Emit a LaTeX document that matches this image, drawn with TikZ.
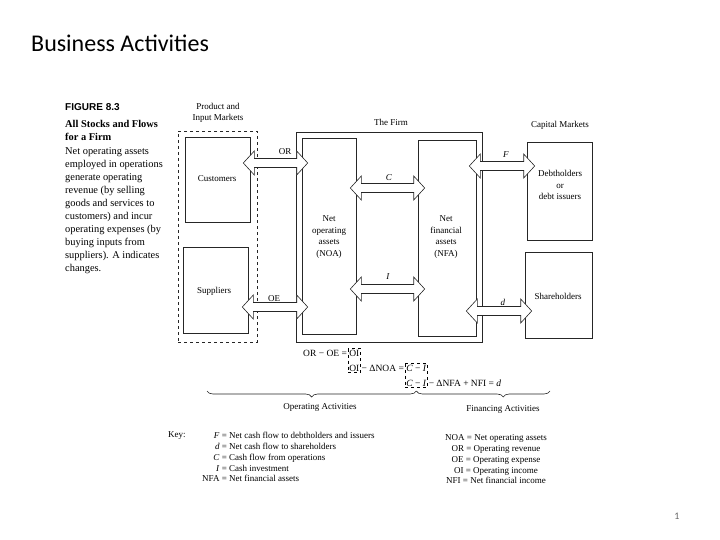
\documentclass[tikz,border=0pt]{standalone}
\usepackage{fontspec}
\setmainfont{Liberation Serif}
\newfontfamily\slidefont{Carlito}
\newfontfamily\figfont{Liberation Sans}
\usepackage{tikz}
\usetikzlibrary{calc, decorations.pathreplacing}

\begin{document}
\begin{tikzpicture}[x=1pt, y=-1pt,
  box/.style={draw=black!85, line width=0.6pt, inner sep=0pt},
  lbl/.style={font=\fontsize{9}{11.5}\selectfont, inner sep=0pt, align=center},
  eq/.style={font=\fontsize{9.5}{10}\selectfont, inner sep=1pt, anchor=base west},
  flow/.style={draw=black!85, fill=white, line width=0.6pt, to path={
    let \p1=(\tikztostart), \p2=(\tikztotarget) in
    (\x1,\y1) -- (\x1+11,\y1+12) -- (\x1+11,\y1+4.5) -- (\x2-11,\y1+4.5) -- (\x2-11,\y1+12)
    -- (\x2,\y1) -- (\x2-11,\y1-12) -- (\x2-11,\y1-4.5) -- (\x1+11,\y1-4.5) -- (\x1+11,\y1-12) -- cycle}},
  brc/.style={decorate, decoration={brace, mirror, amplitude=6pt}, draw=black!85, line width=0.6pt}]
\useasboundingbox (0,0) rectangle (720,540);

\node[font=\slidefont\fontsize{24}{28}\selectfont, anchor=west, inner sep=0pt] (title) at (31,43) {Business Activities};
\node[font=\slidefont\fontsize{10}{12}\selectfont, text=black!60] (page) at (677,516) {1};

% caption of the figure (base = last line)
\node[font=\figfont\fontsize{10}{12}\selectfont\bfseries, anchor=base west, inner sep=0pt] (fig) at (65,111) {FIGURE 8.3};
\node[font=\fontsize{10.4}{13.9}\selectfont\bfseries, anchor=base west, align=left, inner sep=0pt] (capt) at (65,141)
  {All Stocks and Flows\\for a Firm};
\node[font=\fontsize{10.4}{12.9}\selectfont, anchor=base west, align=left, inner sep=0pt] (body) at (65,271)
  {Net operating assets\\employed in operations\\generate operating\\revenue (by selling\\goods and services to\\customers) and incur\\operating expenses (by\\buying inputs from\\suppliers). A indicates\\changes.};

% markets and the firm
\node[box, dashed, minimum width=79, minimum height=211] (pim) at (217.5,236.5) {};
\node[lbl] (pimlbl) at (218,113) {Product and\\Input Markets};
\node[box, minimum width=186, minimum height=210] (firm) at (389,237) {};
\node[lbl] (firmlbl) at (391,122) {The Firm};
\node[lbl] (caplbl) at (560,125) {Capital Markets};

\node[box, minimum width=65, minimum height=85] (cust) at (217.5,179.5) {};
\node[lbl] (custlbl) at (217,179) {Customers};
\node[box, minimum width=65, minimum height=86] (supp) at (215.5,290) {};
\node[lbl] (supplbl) at (214,291) {Suppliers};
\node[box, minimum width=54, minimum height=196] (noa) at (329,236) {};
\node[lbl] (noalbl) at (329,237) {Net\\operating\\assets\\(NOA)};
\node[box, minimum width=58, minimum height=196] (nfa) at (447,238) {};
\node[lbl] (nfalbl) at (446,237) {Net\\financial\\assets\\(NFA)};
\node[box, minimum width=65, minimum height=98] (debt) at (559.5,191) {};
\node[lbl] (debtlbl) at (560,185) {Debtholders\\or\\debt issuers};
\node[box, minimum width=67, minimum height=86] (share) at (558.5,295) {};
\node[lbl] (sharelbl) at (558,296) {Shareholders};

% flows
\draw[flow] ($(cust.east |- 0,163)+(-7,0)$) to ($(noa.west |- 0,163)+(6,0)$);
\draw[flow] ($(supp.east |- 0,307)+(-6,0)$) to ($(noa.west |- 0,307)+(6,0)$);
\draw[flow] ($(noa.east |- 0,188)+(-6,0)$) to ($(nfa.west |- 0,188)+(7,0)$);
\draw[flow] ($(noa.east |- 0,289)+(-6,0)$) to ($(nfa.west |- 0,289)+(7,0)$);
\draw[flow] ($(nfa.east |- 0,166)+(-7,0)$) to ($(debt.west |- 0,166)+(8,0)$);
\draw[flow] ($(nfa.east |- 0,311)+(-10,0)$) to ($(share.west |- 0,311)+(7,0)$);
\node[lbl] (orlbl) at (285,152) {OR};
\node[lbl] (oelbl) at (274,299) {OE};
\node[lbl] (clbl) at (389,178) {\textit{C}};
\node[lbl] (ilbl) at (388,277) {\textit{I}};
\node[lbl] (flbl) at (506,155) {\textit{F}};
\node[lbl] (dlbl) at (503,302) {\textit{d}};

% equations
\node[eq] (eq1) at (302,356) {OR − OE =};
\node[eq] (oi1) at (eq1.base east) {OI};
\node[eq] (oi2) at (oi1.base west |- 0,371) {OI};
\node[eq] (eq2) at (oi2.base east) {− ΔNOA =};
\node[eq] (ci2) at (eq2.base east) {\textit{C} − \textit{I}};
\node[eq] (ci3) at (ci2.base west |- 0,386) {\textit{C} − \textit{I}};
\node[eq] (eq3) at (ci3.base east) {− ΔNFA + NFI = \textit{d}};
\draw[dashed, line width=0.5pt] (oi1.north west) rectangle (oi2.south east);
\draw[dashed, line width=0.5pt] (ci2.north west) rectangle (ci3.south east);

\draw[brc] (207,391) -- (ci3.south |- 0,391);
\draw[brc, decoration={aspect=0.65}] (ci3.south |- 0,391) -- (550,391);
\node[lbl] (oplbl) at (320,407) {Operating Activities};
\node[lbl] (finlbl) at (503,409) {Financing Activities};

% key
\node[font=\fontsize{9}{10.8}\selectfont, anchor=base west, inner sep=0pt] (key) at (168,437) {Key:};
\node[font=\fontsize{9}{10.8}\selectfont, anchor=north west, inner sep=0pt] (keyl) at (202,431)
  {\begin{tabular}{@{}r@{ = }l@{}}
   \textit{F} & Net cash flow to debtholders and issuers\\
   \textit{d} & Net cash flow to shareholders\\
   \textit{C} & Cash flow from operations\\
   \textit{I} & Cash investment\\
   NFA & Net financial assets
   \end{tabular}};
\node[font=\fontsize{9}{10.8}\selectfont, anchor=north, inner sep=0pt] (keyr) at (496,433)
  {\begin{tabular}{@{}c@{}}
   NOA = Net operating assets\\
   OR = Operating revenue\\
   OE = Operating expense\\
   OI = Operating income\\
   NFI = Net financial income
   \end{tabular}};
\end{tikzpicture}
\end{document}
